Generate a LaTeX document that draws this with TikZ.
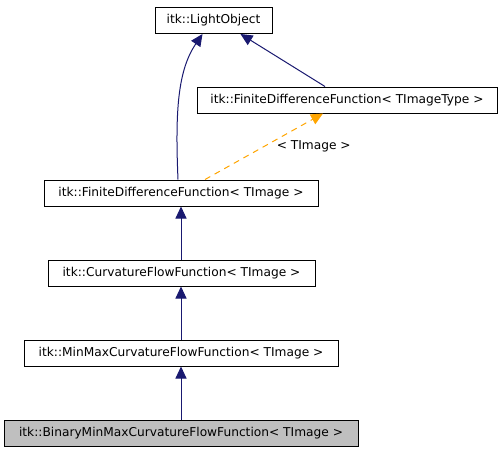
\documentclass[tikz,border=0pt]{standalone}
\usepackage{fontspec}
\setmainfont{DejaVu Sans}
\usetikzlibrary{arrows.meta, positioning}
\definecolor{edgeblue}{HTML}{191970}
\definecolor{edgeorange}{HTML}{FFA500}
\definecolor{classgray}{HTML}{BFBFBF}
\tikzset{
    classbox/.style = {rectangle, draw=black, fill=white, line width=1pt, minimum height=26pt, inner sep=0pt, text centered, font=\fontsize{12.2pt}{14pt}\selectfont},
    current/.style = {classbox, fill=classgray},
    inherit/.style = {edgeblue, line width=1pt, -{Triangle[length=12pt, width=11pt]}},
    templ/.style = {edgeorange, line width=1pt, dash pattern=on 6pt off 5pt, -{Triangle[length=12pt, width=11pt]}}
}
\begin{document}
\begin{tikzpicture}[x=1pt, y=-1pt]
    \useasboundingbox (0,0) rectangle (504,453);
    % Nodes
    \node (light) [classbox, minimum width=117pt] at (213.5,20.5) {itk::LightObject};
    \node (fdftype) [classbox, minimum width=300pt] at (347,100) {itk::FiniteDifferenceFunction< TImageType >};
    \node (fdf) [classbox, minimum width=274pt] at (181,193) {itk::FiniteDifferenceFunction< TImage >};
    \node (curv) [classbox, minimum width=267pt] at (181.5,273) {itk::CurvatureFlowFunction< TImage >};
    \node (minmax) [classbox, minimum width=314pt] at (181,353) {itk::MinMaxCurvatureFlowFunction< TImage >};
    \node (binary) [current, minimum width=354pt] at (181,433) {itk::BinaryMinMaxCurvatureFlowFunction< TImage >};

    % Edges
    \draw [inherit] ([xshift=-3pt]fdf.north) .. controls (175,110) and (178,70) .. ([xshift=-11pt]light.south);
    \draw [inherit] ([xshift=-22pt]fdftype.north) -- ([xshift=27pt]light.south);
    \draw [templ] ([xshift=24pt]fdf.north) -- node [black, pos=0.5, right=9pt, font=\fontsize{12.2pt}{14pt}\selectfont] {< TImage >} ([xshift=-24pt]fdftype.south);
    \draw [inherit] (curv.north -| fdf.south) -- (fdf.south);
    \draw [inherit] (minmax.north) -- (curv.south -| minmax.north);
    \draw [inherit] (binary.north) -- (minmax.south);
\end{tikzpicture}
\end{document}
